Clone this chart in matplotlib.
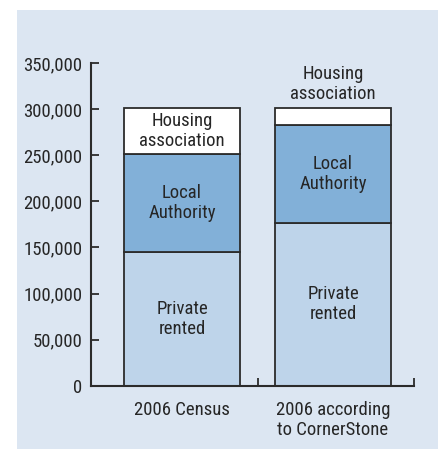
import matplotlib.pyplot as plt
from matplotlib import font_manager
from matplotlib.patches import Rectangle

# Data
categories = ["2006 Census", "2006 according\nto CornerStone"]
private_rented = [145000, 177000]
local_authority = [106000, 105500]
housing_assoc = [50000, 18500]

# pick a narrow font if one is installed
installed = {f.name for f in font_manager.fontManager.ttflist}
narrow = [n for n in ["Liberation Sans Narrow", "Roboto Condensed", "Open Sans Condensed",
                      "DejaVu Sans Condensed", "Liberation Sans"] if n in installed]
plt.rcParams["font.family"] = narrow[:1] + ["DejaVu Sans"]
plt.rcParams["font.size"] = 13.5

EDGE = "#2b2b2b"
TEXT = "#262626"
c_private = "#bed4ea"
c_la = "#82b0d8"
c_ha = "#ffffff"
LS = 1.15

fig = plt.figure(figsize=(4.42, 4.5), dpi=100)
fig.patch.set_facecolor("white")
# light blue panel behind the chart
fig.patches.append(
    Rectangle((17 / 442, 1 - 449 / 450), 421 / 442, 439 / 450,
              transform=fig.transFigure, facecolor="#dce6f2", edgecolor="none", zorder=-5)
)

ax = fig.add_axes([91 / 442, 1 - 385.7 / 450, 323 / 442, (385.7 - 63) / 450])
ax.set_facecolor("none")

x = list(range(len(categories)))
width = 0.77
bottom_la = private_rented
bottom_ha = [p + l for p, l in zip(private_rented, local_authority)]

ax.bar(x, private_rented, width, color=c_private, edgecolor=EDGE, linewidth=1.3)
ax.bar(x, local_authority, width, bottom=bottom_la, color=c_la, edgecolor=EDGE, linewidth=1.3)
ax.bar(x, housing_assoc, width, bottom=bottom_ha, color=c_ha, edgecolor=EDGE, linewidth=1.3)

for i in x:
    ax.text(i, private_rented[i] / 2, "Private\nrented", ha="center", va="center",
            color=TEXT, linespacing=LS)
    ax.text(i, bottom_la[i] + local_authority[i] / 2, "Local\nAuthority", ha="center",
            va="center", color=TEXT, linespacing=LS)

ax.text(0, bottom_ha[0] + housing_assoc[0] / 2, "Housing\nassociation", ha="center",
        va="center", color=TEXT, linespacing=LS)
ax.annotate("Housing\nassociation", xy=(1, bottom_ha[1] + housing_assoc[1]),
            xytext=(0, 4), textcoords="offset points", ha="center", va="bottom",
            color=TEXT, linespacing=LS)

ax.set_xlim(-0.603, 1.536)
ax.set_ylim(0, 350000)
ax.set_yticks(range(0, 350001, 50000))
ax.set_yticklabels([f"{v:,}" for v in range(0, 350001, 50000)])
ax.set_xticks([-0.603, 0.503, 1.536])
ax.set_xticklabels([])
for i, lab in enumerate(categories):
    ax.annotate(lab, xy=(i, 0), xytext=(0, -11), textcoords="offset points",
                ha="center", va="top", color=TEXT, linespacing=LS)

ax.tick_params(axis="both", direction="in", length=6, width=1.3, color=EDGE,
               labelcolor=TEXT)
ax.tick_params(axis="y", pad=6)

ax.spines["top"].set_visible(False)
ax.spines["right"].set_visible(False)
ax.spines["left"].set_color(EDGE)
ax.spines["bottom"].set_color(EDGE)
ax.spines["left"].set_linewidth(1.5)
ax.spines["bottom"].set_linewidth(1.5)

fig.savefig("out.png", dpi=100)
